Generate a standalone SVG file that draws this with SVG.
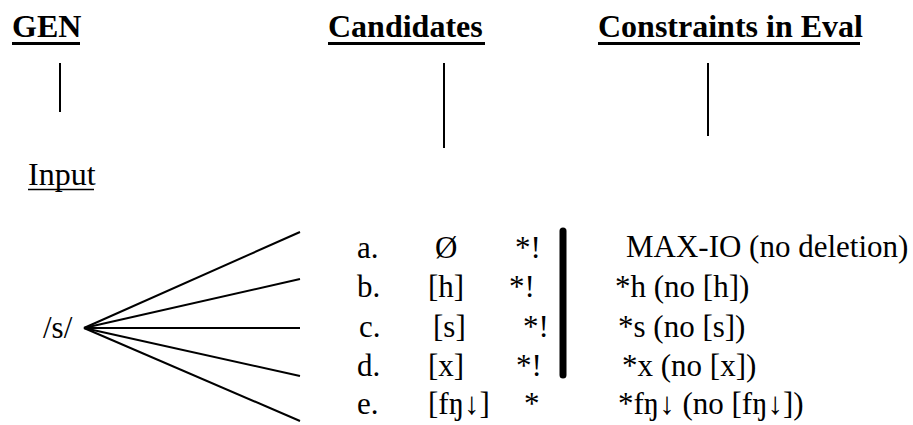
<svg xmlns="http://www.w3.org/2000/svg" width="913" height="425" viewBox="0 0 913 425">
<style>
.h{font-weight:bold;font-size:32px}
.t{font-size:31px}
.ln{stroke:#000;stroke-width:2;fill:none}
.ul{stroke:#000;stroke-width:3}
</style>
<rect width="913" height="425" fill="#fff"/>
<g font-family="Liberation Serif" fill="#000">
<g id="gen"><text class="h" x="12" y="37">GEN</text><line class="ul" x1="12" y1="43.5" x2="80" y2="43.5"/></g>
<g id="candidates"><text class="h" x="328" y="37">Candidates</text><line class="ul" x1="328" y1="43.5" x2="485" y2="43.5"/></g>
<g id="constraints"><text class="h" x="598" y="37">Constraints in Eval</text><line class="ul" x1="598" y1="43.5" x2="860" y2="43.5"/></g>
<g id="input"><text x="28" y="185" font-size="32">Input</text><line x1="28" y1="189.5" x2="94" y2="189.5" stroke="#000" stroke-width="1.6"/></g>
<g id="s"><text class="t" x="43" y="338">/s/</text></g>
<g id="cand-a"><text class="t" x="357" y="258">a.</text><text class="t" x="435" y="258">Ø</text><text class="t" x="515" y="258">*!</text></g>
<g id="cand-b"><text class="t" x="357" y="297">b.</text><text class="t" x="428" y="297">[h]</text><text class="t" x="509" y="297">*!</text></g>
<g id="cand-c"><text class="t" x="359" y="337">c.</text><text class="t" x="433" y="337">[s]</text><text class="t" x="523" y="337">*!</text></g>
<g id="cand-d"><text class="t" x="357" y="376">d.</text><text class="t" x="428" y="376">[x]</text><text class="t" x="516" y="376">*!</text></g>
<g id="cand-e"><text class="t" x="357" y="414">e.</text><text class="t" x="428" y="414">[fŋ↓]</text><text class="t" x="524" y="414">*</text></g>
<g id="con-max"><text class="t" x="626" y="257">MAX-IO (no deletion)</text></g>
<g id="con-h"><text class="t" x="615" y="297">*h (no [h])</text></g>
<g id="con-s"><text class="t" x="618" y="337">*s (no [s])</text></g>
<g id="con-x"><text class="t" x="622" y="376">*x (no [x])</text></g>
<g id="con-f"><text class="t" x="618" y="414">*fŋ↓ (no [fŋ↓])</text></g>
</g>
<g id="connectors">
<line class="ln" x1="60" y1="63" x2="60" y2="112"/>
<line class="ln" x1="444" y1="63" x2="444" y2="148"/>
<line class="ln" x1="708" y1="63" x2="708" y2="136"/>
<line class="ln" x1="84" y1="328" x2="300" y2="232"/>
<line class="ln" x1="84" y1="328" x2="300" y2="279"/>
<line class="ln" x1="84" y1="328" x2="300" y2="328"/>
<line class="ln" x1="84" y1="328" x2="300" y2="376"/>
<line class="ln" x1="84" y1="328" x2="300" y2="421"/>
<line x1="563" y1="231" x2="563" y2="375" stroke="#000" stroke-width="7" stroke-linecap="round"/>
</g>
</svg>
